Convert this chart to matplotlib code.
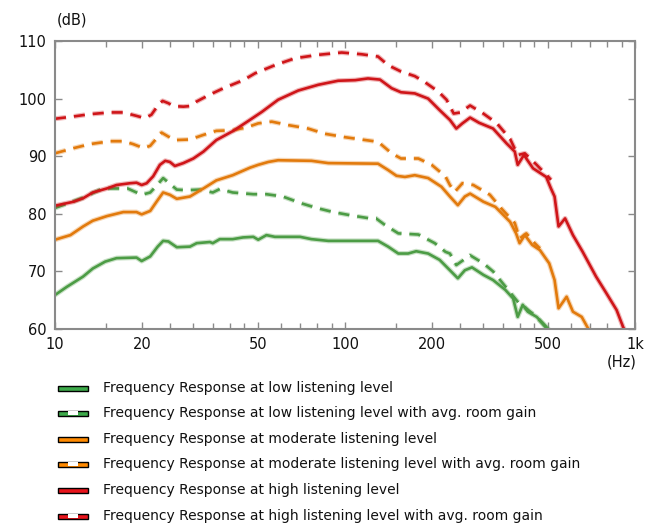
import numpy as np
import matplotlib; matplotlib.use("Agg")
import matplotlib.pyplot as plt
from matplotlib.patches import Rectangle
from matplotlib.ticker import FixedLocator, NullFormatter
import matplotlib.patheffects as pe

plt.rcParams['font.family'] = ['DejaVu Sans']

# ---- data ----
f_low = [10, 10.97, 12.5, 13.5, 14.9, 16.3, 19.1, 19.9, 21.3, 22.6, 23.6, 24.6, 26.3, 29.2, 30.8, 34.2, 35, 37,
         41, 44.5, 48.3, 50.2, 53.6, 57.3, 70, 76.6, 87.6, 130, 140.8, 152.7, 165, 176, 193.5, 212, 230, 245,
         259, 274, 300, 324, 357, 380, 394, 410, 427, 458, 494, 510]
db_low = [65.9, 67.3, 69.1, 70.5, 71.7, 72.3, 72.4, 71.8, 72.6, 74.3, 75.3, 75.2, 74.2, 74.3, 74.9, 75.1, 74.9, 75.6,
          75.6, 75.9, 76.0, 75.5, 76.3, 76.0, 76.0, 75.6, 75.3, 75.3, 74.3, 73.1, 73.1, 73.5, 73.1, 72.0, 70.2, 68.8,
          70.2, 70.7, 69.4, 68.5, 66.8, 65.3, 62.1, 64.2, 63.0, 62.1, 60.4, 59.6]

f_low_rg = [10, 12.5, 14.6, 17.8, 19.9, 21.3, 22.5, 23.6, 26.3, 28.4, 31.6, 35, 37, 41, 48.3, 53.6, 61, 70.9,
            80, 91, 105.6, 122, 128, 137, 152.7, 179, 204, 222, 230, 242, 270, 300, 324, 361, 402, 414, 458,
            490, 505]
db_low_rg = [81.0, 82.8, 84.4, 84.4, 83.3, 83.7, 85.0, 86.2, 84.2, 84.1, 84.2, 83.7, 84.3, 83.7, 83.4, 83.4, 83.0,
             81.8, 81.0, 80.3, 79.7, 79.2, 79.2, 78.1, 76.6, 76.4, 74.9, 73.4, 73.1, 71.1, 72.8, 71.4, 70.0, 67.1,
             64.2, 63.9, 62.1, 60.4, 59.7]

f_mod = [10, 11.3, 12.5, 13.5, 15.1, 17.2, 19.1, 19.9, 21.3, 22.4, 23.6, 24.9, 26.3, 29.2, 32.5, 36, 41, 47,
         50.2, 54.4, 58.8, 76.6, 87.6, 130, 140.8, 150.5, 161, 174, 193.5, 215, 230, 245, 259, 270, 300, 330,
         371, 389, 400, 417, 442, 470, 506, 528, 545, 581, 611, 655, 689, 700]
db_mod = [75.5, 76.3, 77.8, 78.8, 79.6, 80.3, 80.3, 79.9, 80.5, 82.1, 83.7, 83.3, 82.6, 83.0, 84.4, 85.8, 86.7, 88.0,
          88.5, 89.0, 89.3, 89.2, 88.8, 88.7, 87.6, 86.6, 86.4, 86.7, 86.2, 84.7, 83.0, 81.5, 83.0, 83.5, 82.1, 81.2,
          78.6, 76.6, 74.9, 76.3, 74.6, 73.7, 71.4, 68.5, 63.6, 65.6, 63.0, 62.1, 60.1, 59.6]

f_mod_rg = [10, 11.6, 13.2, 15.5, 17.2, 18.6, 20.2, 21.3, 22.4, 23.3, 24.6, 25.9, 29.2, 32.5, 36, 41, 45.8, 50.2,
            55.9, 63.7, 74.6, 85.1, 100, 113.9, 130, 144.8, 156, 179, 199, 222, 230, 239, 254, 277, 316, 345,
            385, 400, 422, 445, 470]
db_mod_rg = [90.5, 91.4, 92.1, 92.6, 92.6, 92.1, 91.4, 91.8, 93.1, 94.1, 93.4, 92.8, 92.9, 93.7, 94.4, 94.5, 95.0,
             95.7, 96.0, 95.4, 94.8, 93.9, 93.3, 92.9, 92.5, 90.5, 89.6, 89.6, 88.5, 86.5, 85.0, 83.8, 85.3, 85.0,
             83.3, 81.0, 78.4, 75.7, 76.6, 75.2, 74.0]

f_high = [10, 11.6, 12.5, 13.5, 15.1, 16.3, 18.1, 19.1, 19.9, 20.7, 21.8, 23, 24, 24.9, 25.9, 27.7, 30, 32.5, 36,
          41.2, 47, 51.7, 58.8, 69, 80.9, 94.7, 108.4, 120, 132, 144.8, 156, 174, 193.5, 212, 230, 242, 254,
          270, 290, 324, 361, 385, 394, 414, 445, 494, 513, 528, 545, 574, 611, 660, 734, 797, 864, 909, 925]
db_high = [81.4, 82.1, 82.7, 83.7, 84.4, 85.0, 85.3, 85.4, 85.0, 85.3, 86.5, 88.5, 89.2, 89.0, 88.3, 88.8, 89.6,
           90.8, 92.8, 94.4, 96.3, 97.7, 99.8, 101.4, 102.4, 103.1, 103.2, 103.5, 103.3, 101.8, 101.1, 100.9,
           100.0, 98.0, 96.3, 94.8, 95.7, 96.7, 95.8, 94.8, 92.2, 90.8, 88.5, 90.2, 87.9, 86.4, 84.4, 83.0, 77.8,
           79.2, 76.3, 73.4, 69.1, 66.2, 63.3, 60.4, 59.6]

f_high_rg = [10, 11.6, 13.2, 15.5, 17.2, 19.1, 20.4, 21.5, 22.7, 23.5, 24.6, 25.6, 27.7, 29.2, 30.8, 34.2, 38.1,
             44.6, 49, 57.3, 67.2, 80.9, 97.4, 114, 130, 140.8, 156, 174, 188, 210, 224, 237, 250, 270, 300, 334,
             371, 394, 417, 458, 503, 513]
db_high_rg = [96.5, 96.9, 97.3, 97.6, 97.6, 97.0, 96.6, 97.2, 98.9, 99.6, 99.2, 98.7, 98.6, 98.7, 99.5, 100.7,
              101.8, 103.2, 104.4, 105.8, 107.0, 107.6, 108.0, 107.7, 107.3, 105.8, 104.7, 103.9, 102.9, 101.2,
              99.8, 97.4, 97.6, 98.8, 97.4, 95.7, 93.0, 90.2, 90.5, 88.5, 86.4, 85.9]

labels = ["Frequency Response at low listening level",
          "Frequency Response at low listening level with avg. room gain",
          "Frequency Response at moderate listening level",
          "Frequency Response at moderate listening level with avg. room gain",
          "Frequency Response at high listening level",
          "Frequency Response at high listening level with avg. room gain"]

GREEN = "#4c9c45"; ORANGE = "#e27a0c"; RED = "#cf1519"
LG_GREEN = "#3daa4a"; LG_ORANGE = "#ff8a00"; LG_RED = "#e8141c"
GRAY = "#8a8a8a"

fig = plt.figure(figsize=(6.46, 5.24), dpi=100)
ax = fig.add_axes([55/646, 1-329/524, 580/646, 288/524])

series = [(f_low, db_low, GREEN, False), (f_low_rg, db_low_rg, GREEN, True),
          (f_mod, db_mod, ORANGE, False), (f_mod_rg, db_mod_rg, ORANGE, True),
          (f_high, db_high, RED, False), (f_high_rg, db_high_rg, RED, True)]
for fx, dy, c, dashed in series:
    ln, = ax.plot(fx, dy, color=c, lw=1.9, solid_capstyle="butt",
                  path_effects=[pe.Stroke(linewidth=3.6, foreground=c, alpha=0.3), pe.Normal()])
    if dashed:
        ln.set_dashes((4.2, 3.0))

ax.set_xscale("log")
ax.set_xlim(10, 1000); ax.set_ylim(60, 110)
major = [10, 20, 50, 100, 200, 500, 1000]
minor = []
for dec in (10, 100):
    minor += [dec*m for m in (1.5, 2, 2.5, 3, 3.5, 4, 4.5, 5, 6, 7, 8, 9)]
ax.xaxis.set_major_locator(FixedLocator(major))
ax.set_xticklabels(["10", "20", "50", "100", "200", "500", "1k"])
ax.xaxis.set_minor_locator(FixedLocator(minor))
ax.xaxis.set_minor_formatter(NullFormatter())
ax.set_yticks([60, 70, 80, 90, 100, 110])
ax.tick_params(which="both", direction="in", top=True, right=True, color=GRAY, width=1, labelsize=10.5,
               labelcolor="#111111")
ax.tick_params(which="major", length=5, pad=6)
ax.tick_params(which="minor", length=4)
for s in ax.spines.values():
    s.set_color(GRAY); s.set_linewidth(1.5)

fig.text(57/646, 1-20/524, "(dB)", fontsize=10.5, ha="left", va="center", color="#111111")
fig.text(637/646, 1-362/524, "(Hz)", fontsize=10.5, ha="right", va="center", color="#111111")

# legend
leg_cols = [(LG_GREEN, False), (LG_GREEN, True), (LG_ORANGE, False), (LG_ORANGE, True),
            (LG_RED, False), (LG_RED, True)]
rows_y = [388, 413, 439, 464, 490, 516]
for (c, dashed), lab, yy in zip(leg_cols, labels, rows_y):
    fig.add_artist(Rectangle((58/646, 1-(yy+2.5)/524), 30/646, 5/524, transform=fig.transFigure,
                             facecolor=c, edgecolor="black", lw=1))
    if dashed:
        fig.add_artist(Rectangle((68/646, 1-(yy+2)/524), 10/646, 4/524, transform=fig.transFigure,
                                 facecolor="white", edgecolor="none"))
    fig.text(103/646, 1-yy/524, lab, fontsize=10, ha="left", va="center", color="#111111")

fig.savefig("out.png", dpi=100)
